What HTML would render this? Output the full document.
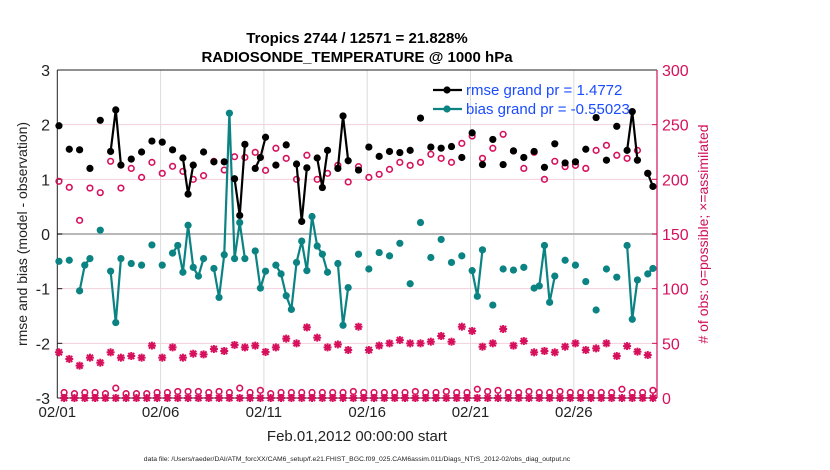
<!DOCTYPE html>
<html><head><meta charset="utf-8"><style>
html,body{margin:0;padding:0;background:#fff;}
svg{display:block;font-family:"Liberation Sans",sans-serif;}
</style></head><body>
<svg id="chart" width="830" height="470" viewBox="0 0 830 470" xmlns="http://www.w3.org/2000/svg">
<text x="357" y="43" text-anchor="middle" font-size="15" font-weight="bold">Tropics 2744 / 12571 = 21.828%</text>
<text x="357" y="62" text-anchor="middle" font-size="15" font-weight="bold">RADIOSONDE_TEMPERATURE @ 1000 hPa</text>
<g id="grid"></g>
<g id="axes"></g>
<g id="marks"></g>
<g id="legend"></g>
<text transform="translate(27,234) rotate(-90)" text-anchor="middle" font-size="14" fill="#222">rmse and bias (model - observation)</text>
<text transform="translate(708,234) rotate(-90)" text-anchor="middle" font-size="14" fill="#d0105a"># of obs: o=possible; ×=assimilated</text>
<text x="357" y="441" text-anchor="middle" font-size="15" fill="#222">Feb.01,2012 00:00:00 start</text>
<text x="357" y="461" text-anchor="middle" font-size="6.8" fill="#222">data file: /Users/raeder/DAI/ATM_forcXX/CAM6_setup/f.e21.FHIST_BGC.f09_025.CAM6assim.011/Diags_NTrS_2012-02/obs_diag_output.nc</text>
</svg>
<script>
const xTickDays=[0,5,10,15,20,25];
const xTickLabels=["02/01","02/06","02/11","02/16","02/21","02/26"];
const yLeftTicks=[3,2,1,0,-1,-2,-3];
const yRightTicks=[0,50,100,150,200,250,300];
const rmseSlots=[0,2,4,6,8,10,11,12,14,16,18,20,22,24,25,26,28,30,32,34,35,36,38,39,40,42,44,46,47,48,50,51,52,54,55,56,58,60,62,64,66,68,70,72,74,76,78,80,82,84,86,88,90,92,94,96,98,100,102,104,106,108,110,111,112,114,115];
const rmseValues=[1.98,1.55,1.54,1.2,2.08,1.51,2.27,1.26,1.37,1.5,1.7,1.68,1.54,1.39,0.73,1.26,1.5,1.32,1.32,1.01,0.34,1.64,1.2,1.4,1.77,1.26,1.63,1.28,0.23,1.21,1.39,0.85,1.53,1.2,2.16,1.34,1.17,1.59,1.42,1.51,1.49,1.53,2.12,1.59,1.57,1.6,1.4,1.85,1.27,1.73,1.27,1.52,1.4,1.51,1.22,1.65,1.3,1.32,1.55,2.13,1.35,1.97,1.53,2.24,1.35,1.11,0.87];
const biasSlots=[0,2,4,5,6,8,10,11,12,14,16,18,20,22,23,24,25,26,27,28,30,31,32,33,34,35,36,38,39,40,42,43,44,45,46,47,48,49,50,51,52,54,55,56,58,60,62,64,66,68,70,72,74,76,78,80,81,82,84,86,88,90,92,93,94,95,96,98,100,102,104,106,108,110,111,112,114,115];
const biasValues=[-0.5,-0.48,-1.04,-0.57,-0.45,0.07,-0.68,-1.62,-0.45,-0.54,-0.57,-0.2,-0.57,-0.35,-0.21,-0.7,0.16,-0.61,-0.77,-0.45,-0.63,-1.16,-0.38,2.21,-0.45,0.21,-0.45,-0.31,-0.99,-0.68,-0.57,-0.73,-1.13,-1.38,-0.52,-0.13,-0.67,0.32,-0.22,-0.37,-0.7,-0.54,-1.67,-0.98,-0.37,-0.64,-0.34,-0.4,-0.17,-0.91,0.21,-0.43,-0.1,-0.52,-0.4,-0.67,-1.14,-0.29,-1.3,-0.64,-0.66,-0.61,-0.99,-0.95,-0.21,-1.25,-0.77,-0.48,-0.57,-0.87,-1.39,-0.64,-0.79,-0.21,-1.56,-0.84,-0.73,-0.63];
const possibleCounts=[198.2,192.7,162.5,192,187.8,216.5,192,210,201.8,215.5,205.5,211.9,207.3,200,203.4,216.5,208.5,220.7,220.1,224.7,208.2,228.4,219.2,200,222,200,205.5,212.8,197.6,211.6,201.8,204.6,209.1,215.5,212.8,215.5,222.9,219.2,215.5,232.9,239.6,219.2,228.4,241.2,225.9,210,224.7,200,216.5,211.6,212.8,210,226.5,231.1,222,219.2,226.5,205.5];
const assimCounts=[41.8,35.7,29.6,36.9,32.3,41.8,36.9,38.4,36.9,47.9,36.9,46.3,36.9,40.5,39.9,44.8,43,48.5,46.3,47.9,42.1,46.3,54.3,50,64.6,55.2,46.3,49,43.9,65.2,43.9,47.9,50,53,50,50,51.5,56.7,51.5,65.2,61.3,46.9,50,63.1,47.9,52.1,41.8,43,41.8,46.9,50,43.9,45.4,50,38.4,47.5,42.4,39.3];
const possibleOddCounts=[5,4,5,5,4,9,4,4,4,5,5,6,6,6,5,6,5,9,5,7,4,5,5,5,5,5,5,5,6,5,5,5,5,5,6,5,5,6,5,5,8,6,7,5,5,6,5,5,6,5,5,5,5,5,8,5,5,7];
const assimOddCounts=[0,0,0,0,0,0,0,0,0,0,0,0,0,0,0,0,0,0,0,0,0,0,0,0,0,0,0,0,0,0,0,0,0,0,0,0,0,0,0,0,0,0,0,0,0,0,0,0,0,0,0,0,0,0,0,0,0,0];

const X0=57.3, DAY=20.66, XR=657, YT=70, YB=398;
const NS="http://www.w3.org/2000/svg";
const xDay=d=>X0+d*DAY;
const xSlot=k=>xDay(k*0.25+0.08);
const yL=v=>234-v*(YB-YT)/6;
const yR=c=>YB-c*(YB-YT)/300;
const MAG="#d6105c", TEAL="#0c8383";
function mk(tag,attrs,parent){const e=document.createElementNS(NS,tag);for(const a in attrs)e.setAttribute(a,attrs[a]);parent.appendChild(e);return e;}
const grid=document.getElementById('grid'),axes=document.getElementById('axes'),marks=document.getElementById('marks'),legend=document.getElementById('legend');

xTickDays.forEach((d,i)=>{
  if(d>0){const g=mk('line',{x1:xDay(d),x2:xDay(d),y1:YT,y2:YB,stroke:'#dcdcdc','stroke-width':1},grid);
  
  }
  const t=mk('text',{x:xDay(d),y:417,'text-anchor':'middle','font-size':15,fill:'#222'},axes);
  t.textContent=xTickLabels[i];
  
  
});
yRightTicks.forEach(c=>{
  if(c>0&&c<300&&c!==150){const g=mk('line',{x1:X0,x2:XR,y1:yR(c),y2:yR(c),stroke:'#f3cfdc','stroke-width':1},grid);
  
  }
  const t=mk('text',{x:662,y:yR(c)+6,'font-size':16,fill:MAG},axes);
  t.textContent=c;
  
  
  mk('line',{x1:XR-5,x2:XR,y1:yR(c),y2:yR(c),stroke:MAG,'stroke-width':1},axes);
});
const zl=mk('line',{x1:X0,x2:XR,y1:yL(0),y2:yL(0),stroke:'#b8b8b8','stroke-width':2},grid);


yLeftTicks.forEach(v=>{
  const t=mk('text',{x:50,y:yL(v)+6,'text-anchor':'end','font-size':16,fill:'#222'},axes);
  t.textContent=v;
  
  
  mk('line',{x1:X0,x2:X0+5,y1:yL(v),y2:yL(v),stroke:'#222','stroke-width':1},axes);
});
mk('line',{x1:X0,x2:X0,y1:YT,y2:YB,stroke:'#222','stroke-width':1},axes);
mk('line',{x1:X0,x2:XR,y1:YB,y2:YB,stroke:'#222','stroke-width':1},axes);
mk('line',{x1:X0,x2:XR,y1:YT,y2:YT,stroke:'#222','stroke-width':1},axes);
mk('line',{x1:XR,x2:XR,y1:YT,y2:YB,stroke:MAG,'stroke-width':1.2},axes);

function star(x,y,name){
  const g=mk('g',{stroke:MAG,'stroke-width':2},marks);
  
  
  const r=4;
  mk('line',{x1:x-r,x2:x+r,y1:y,y2:y},g);mk('line',{x1:x,x2:x,y1:y-r,y2:y+r},g);
  mk('line',{x1:x-3,x2:x+3,y1:y-3,y2:y+3},g);mk('line',{x1:x-3,x2:x+3,y1:y+3,y2:y-3},g);
}
function ring(x,y,name){
  const c=mk('circle',{cx:x,cy:y,r:2.8,fill:'none',stroke:MAG,'stroke-width':1.6},marks);
  
  
}
possibleOddCounts.forEach((c,i)=>{const k=2*i+1;ring(xSlot(k),yR(c),'possible-count-low');});
assimOddCounts.forEach((c,i)=>{const k=2*i+1;star(xSlot(k),yR(c),'assimilated-count-low');});
assimCounts.forEach((c,i)=>star(xSlot(2*i),yR(c),'assimilated-count'));
possibleCounts.forEach((c,i)=>ring(xSlot(2*i),yR(c),'possible-count'));

function series(slots,vals,color,name){
  const n=Math.min(slots.length,vals.length);
  let seg=[];
  const flush=()=>{if(seg.length>1){const p=mk('polyline',{points:seg.join(' '),fill:'none',stroke:color,'stroke-width':2.2},marks);
    
    }seg=[];};
  for(let i=0;i<n;i++){
    if(i>0&&slots[i]!==slots[i-1]+1)flush();
    seg.push(xSlot(slots[i])+','+yL(vals[i]));
  }
  flush();
  for(let i=0;i<n;i++){
    const c=mk('circle',{cx:xSlot(slots[i]),cy:yL(vals[i]),r:3.6,fill:color},marks);
    
    
  }
}
series(biasSlots,biasValues,TEAL,'bias');
series(rmseSlots,rmseValues,'#000','rmse');

[['#000','rmse grand pr = 1.4772',90,'legend-entry-rmse'],[TEAL,'bias grand pr = -0.55023',109,'legend-entry-bias']].forEach(e=>{
  const g=mk('g',{},legend);
  
  
  mk('line',{x1:433,x2:462,y1:e[2],y2:e[2],stroke:e[0],'stroke-width':2.2},g);
  mk('circle',{cx:447,cy:e[2],r:3.6,fill:e[0]},g);
  const t=mk('text',{x:466,y:e[2]+5,'font-size':15,fill:'#1a4cff'},g);
  t.textContent=e[1];
});
</script>
</body></html>
